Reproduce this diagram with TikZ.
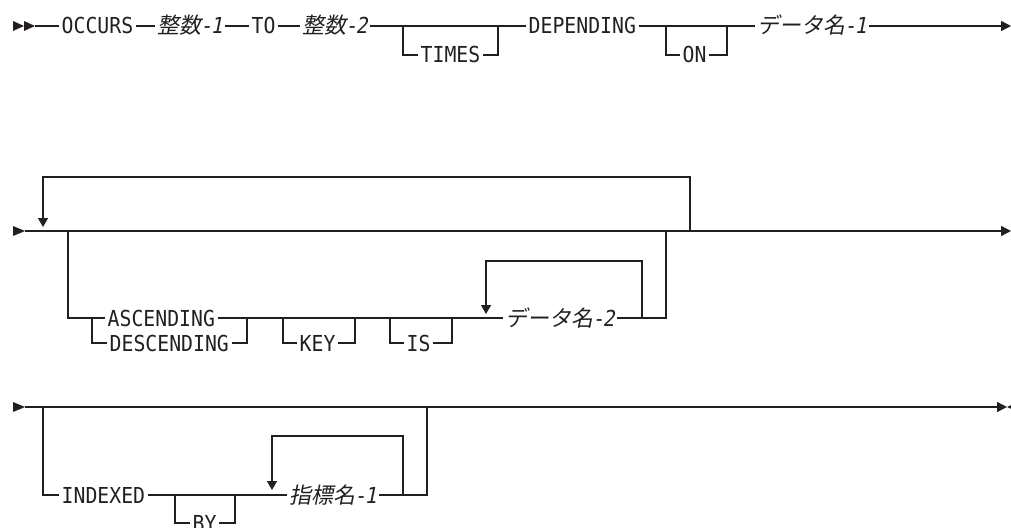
\documentclass[tikz,border=0pt]{standalone}
\usepackage{fontspec}
\usetikzlibrary{arrows.meta}
\newfontfamily\kwfont[FakeStretch=0.9]{DejaVu Sans Mono}
\newfontfamily\varfont[FakeStretch=0.9,FakeSlant=0.2]{DejaVu Sans Mono}
\newfontfamily\jpfont[FakeSlant=0.2]{Noto Sans CJK JP}
\definecolor{ink}{RGB}{35,31,32}
\newcommand{\jv}[2]{{\jpfont #1}{\varfont\kern-1.5pt-\kern-1.5pt#2}}
\tikzset{
  base/.style={inner xsep=2pt, inner ysep=0pt, text height=16pt, text depth=0pt, anchor=west, text=ink},
  kw/.style={base, font=\kwfont\fontsize{22}{24}\selectfont},
  var/.style={base, font=\fontsize{22}{24}\selectfont},
  tip/.style={-{Triangle[length=10pt,width=10pt]}},
  dtip/.style={-{Triangle[length=9pt,width=10pt]}},
}
\begin{document}
\begin{tikzpicture}[x=1pt,y=-1pt,line width=1.4pt,draw=ink]
\useasboundingbox (0,0) rectangle (1011,527);

% ---------- Row 1 ----------
\fill[ink] (13,21)--(24,26)--(13,31)--cycle;
\fill[ink] (24,21)--(35,26)--(24,31)--cycle;
\coordinate (s1) at (35,26);
\node[kw] (occurs) at (59,26) {OCCURS};
\node[var] (int1) at (155,26) {\jv{整数}{1}};
\node[kw] (to) at (249,26) {TO};
\node[var] (int2) at (300,26) {\jv{整数}{2}};
\coordinate (t1) at (403,26);
\coordinate (t2) at (498,26);
\node[kw] (times) at (418,55) {TIMES};
\node[kw] (depending) at (526,26) {DEPENDING};
\coordinate (o1) at (666,26);
\coordinate (o2) at (727,26);
\node[kw] (on) at (680,55) {ON};
\node[var] (dn1) at (755,26) {\jv{データ名}{1}};
\coordinate (e1) at (1011,26);

\draw (s1) -- (occurs.west);
\draw (occurs.east) -- (int1.west);
\draw (int1.east) -- (to.west);
\draw (to.east) -- (int2.west);
\draw (int2.east) -- (depending.west);
\draw (t1) |- (times.west);
\draw (times.east) -| (t2);
\draw (depending.east) -- (dn1.west);
\draw (o1) |- (on.west);
\draw (on.east) -| (o2);
\draw[tip] (dn1.east) -- (e1);

% ---------- Row 2 ----------
\fill[ink] (13,226)--(25,231)--(13,236)--cycle;
\coordinate (s2) at (25,231);
\coordinate (e2) at (1011,231);
\coordinate (r2) at (690,231);
\coordinate (r2t) at (690,177);
\coordinate (l2t) at (43,177);
\coordinate (l2) at (43,227);
\coordinate (b1) at (68,231);
\coordinate (b2) at (666,231);
\coordinate (c1) at (92,318);
\coordinate (c2) at (247,318);
\node[kw] (asc) at (105,318) {ASCENDING};
\node[kw] (desc) at (107,343) {DESCENDING};
\coordinate (k1) at (283,318);
\coordinate (k2) at (355,318);
\node[kw] (key) at (297,343) {KEY};
\coordinate (i1) at (390,318);
\coordinate (i2) at (452,318);
\node[kw] (is) at (404,343) {IS};
\node[var] (dn2) at (503,318) {\jv{データ名}{2}};
\coordinate (q2) at (642,318);
\coordinate (q2t) at (642,261);
\coordinate (p2t) at (486,261);
\coordinate (p2) at (486,314);

\draw[tip] (s2) -- (e2);
\draw[dtip] (r2) -- (r2t) -- (l2t) -- (l2);
\draw (b1) |- (asc.west);
\draw (c1) |- (desc.west);
\draw (asc.east) -- (dn2.west);
\draw (desc.east) -| (c2);
\draw (k1) |- (key.west);
\draw (key.east) -| (k2);
\draw (i1) |- (is.west);
\draw (is.east) -| (i2);
\draw (dn2.east) -| (b2);
\draw[dtip] (q2) -- (q2t) -- (p2t) -- (p2);

% ---------- Row 3 ----------
\fill[ink] (13,402)--(25,407)--(13,412)--cycle;
\coordinate (s3) at (25,407);
\coordinate (e3) at (1007,407);
\coordinate (g1) at (43,407);
\coordinate (g2) at (427,407);
\node[kw] (indexed) at (59,495) {INDEXED};
\coordinate (y1) at (175,495);
\coordinate (y2) at (235,495);
\node[kw] (by) at (190,523) {BY};
\node[var] (idx) at (287,495) {\jv{指標名}{1}};
\coordinate (q3) at (403,495);
\coordinate (q3t) at (403,436);
\coordinate (p3t) at (272,436);
\coordinate (p3) at (272,490);

\draw[tip] (s3) -- (e3);
\fill[ink] (1007,407)--(1018,402)--(1018,412)--cycle;
\draw (g1) |- (indexed.west);
\draw (indexed.east) -- (idx.west);
\draw (y1) |- (by.west);
\draw (by.east) -| (y2);
\draw (idx.east) -| (g2);
\draw[dtip] (q3) -- (q3t) -- (p3t) -- (p3);
\end{tikzpicture}
\end{document}
